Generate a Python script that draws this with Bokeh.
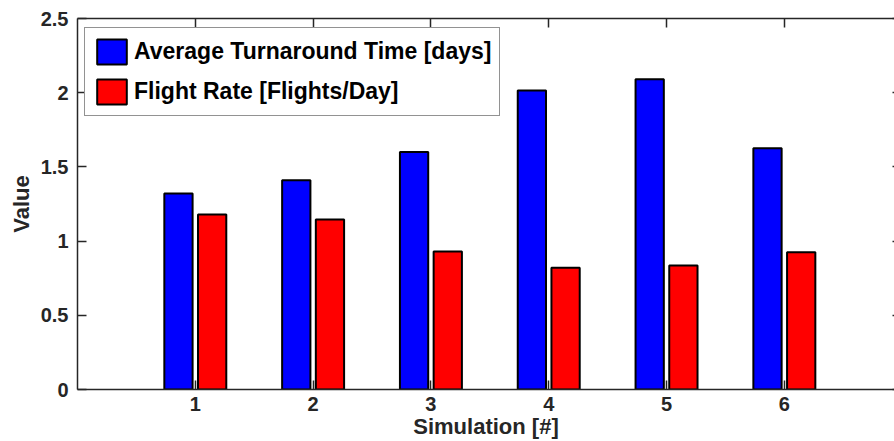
from bokeh.plotting import figure
from bokeh.models import LinearAxis, FixedTicker, Range1d, Legend
from bokeh.embed import file_html
from bokeh.resources import INLINE

# ---- data ----
simulations = [1, 2, 3, 4, 5, 6]
turnaround_days = [1.32, 1.41, 1.60, 2.015, 2.09, 1.625]
flight_rate = [1.18, 1.145, 0.93, 0.82, 0.835, 0.925]
y_ticks = [0, 0.5, 1, 1.5, 2, 2.5]
y_tick_labels = ["0", "0.5", "1", "1.5", "2", "2.5"]
series_names = ["Average Turnaround Time [days]", "Flight Rate [Flights/Day]"]

FONT = "Liberation Sans"
DARK = "#262626"
OFFSET = 0.143
BAR_W = 0.24

p = figure(width=894, height=441, output_backend="svg", toolbar_location=None,
           x_range=Range1d(0, 6.935), y_range=Range1d(0, 2.5))
p.min_border_left = 77
p.min_border_top = 18
p.min_border_bottom = 52
p.min_border_right = 0
p.outline_line_color = None
p.grid.visible = False
p.background_fill_color = "white"
p.border_fill_color = "white"

x_blue = [s - OFFSET for s in simulations]
x_red = [s + OFFSET for s in simulations]
r1 = p.vbar(x=x_blue, top=turnaround_days, width=BAR_W, bottom=0,
            fill_color="#0000FF", line_color="black", line_width=2)
r2 = p.vbar(x=x_red, top=flight_rate, width=BAR_W, bottom=0,
            fill_color="#FF0000", line_color="black", line_width=2)

overrides = {t: l for t, l in zip(y_ticks, y_tick_labels)}

def style_axis(ax):
    ax.axis_line_color = DARK
    ax.axis_line_width = 1.5
    ax.major_tick_line_color = DARK
    ax.major_tick_line_width = 1.5
    ax.major_tick_in = 9
    ax.major_tick_out = 0
    ax.minor_tick_line_color = None
    ax.major_label_text_font = FONT
    ax.major_label_text_font_style = "bold"
    ax.major_label_text_font_size = "20px"
    ax.major_label_text_color = DARK
    ax.axis_label_text_font = FONT
    ax.axis_label_text_font_style = "bold"
    ax.axis_label_text_font_size = "22px"
    ax.axis_label_text_color = DARK

xa = p.xaxis[0]
style_axis(xa)
xa.ticker = FixedTicker(ticks=simulations)
xa.axis_label = "Simulation [#]"
xa.major_label_standoff = 7
xa.axis_label_standoff = 0

ya = p.yaxis[0]
style_axis(ya)
ya.ticker = FixedTicker(ticks=y_ticks)
ya.major_label_overrides = overrides
ya.axis_label = "Value"
ya.major_label_standoff = 9
ya.axis_label_standoff = 4

top = LinearAxis(ticker=FixedTicker(ticks=simulations))
style_axis(top)
top.major_label_overrides = {s: "" for s in simulations}
top.major_label_standoff = 0
p.add_layout(top, "above")

right = LinearAxis(ticker=FixedTicker(ticks=y_ticks))
style_axis(right)
right.axis_line_color = None
right.major_tick_in = 2
right.major_label_overrides = {t: "" for t in y_ticks}
right.major_label_standoff = 0
p.add_layout(right, "right")

legend = Legend(items=[(series_names[0], [r1]), (series_names[1], [r2])],
                location=(7, 273))
legend.label_text_font = FONT
legend.label_text_font_style = "bold"
legend.label_text_font_size = "23px"
legend.label_text_color = "black"
legend.glyph_width = 37
legend.glyph_height = 31
legend.label_standoff = 4
legend.spacing = 9
legend.padding = 8
legend.margin = 0
legend.border_line_color = DARK
legend.border_line_width = 1.5
legend.background_fill_alpha = 1
p.add_layout(legend, "center")

open("out.html", "w").write(file_html(p, INLINE))
